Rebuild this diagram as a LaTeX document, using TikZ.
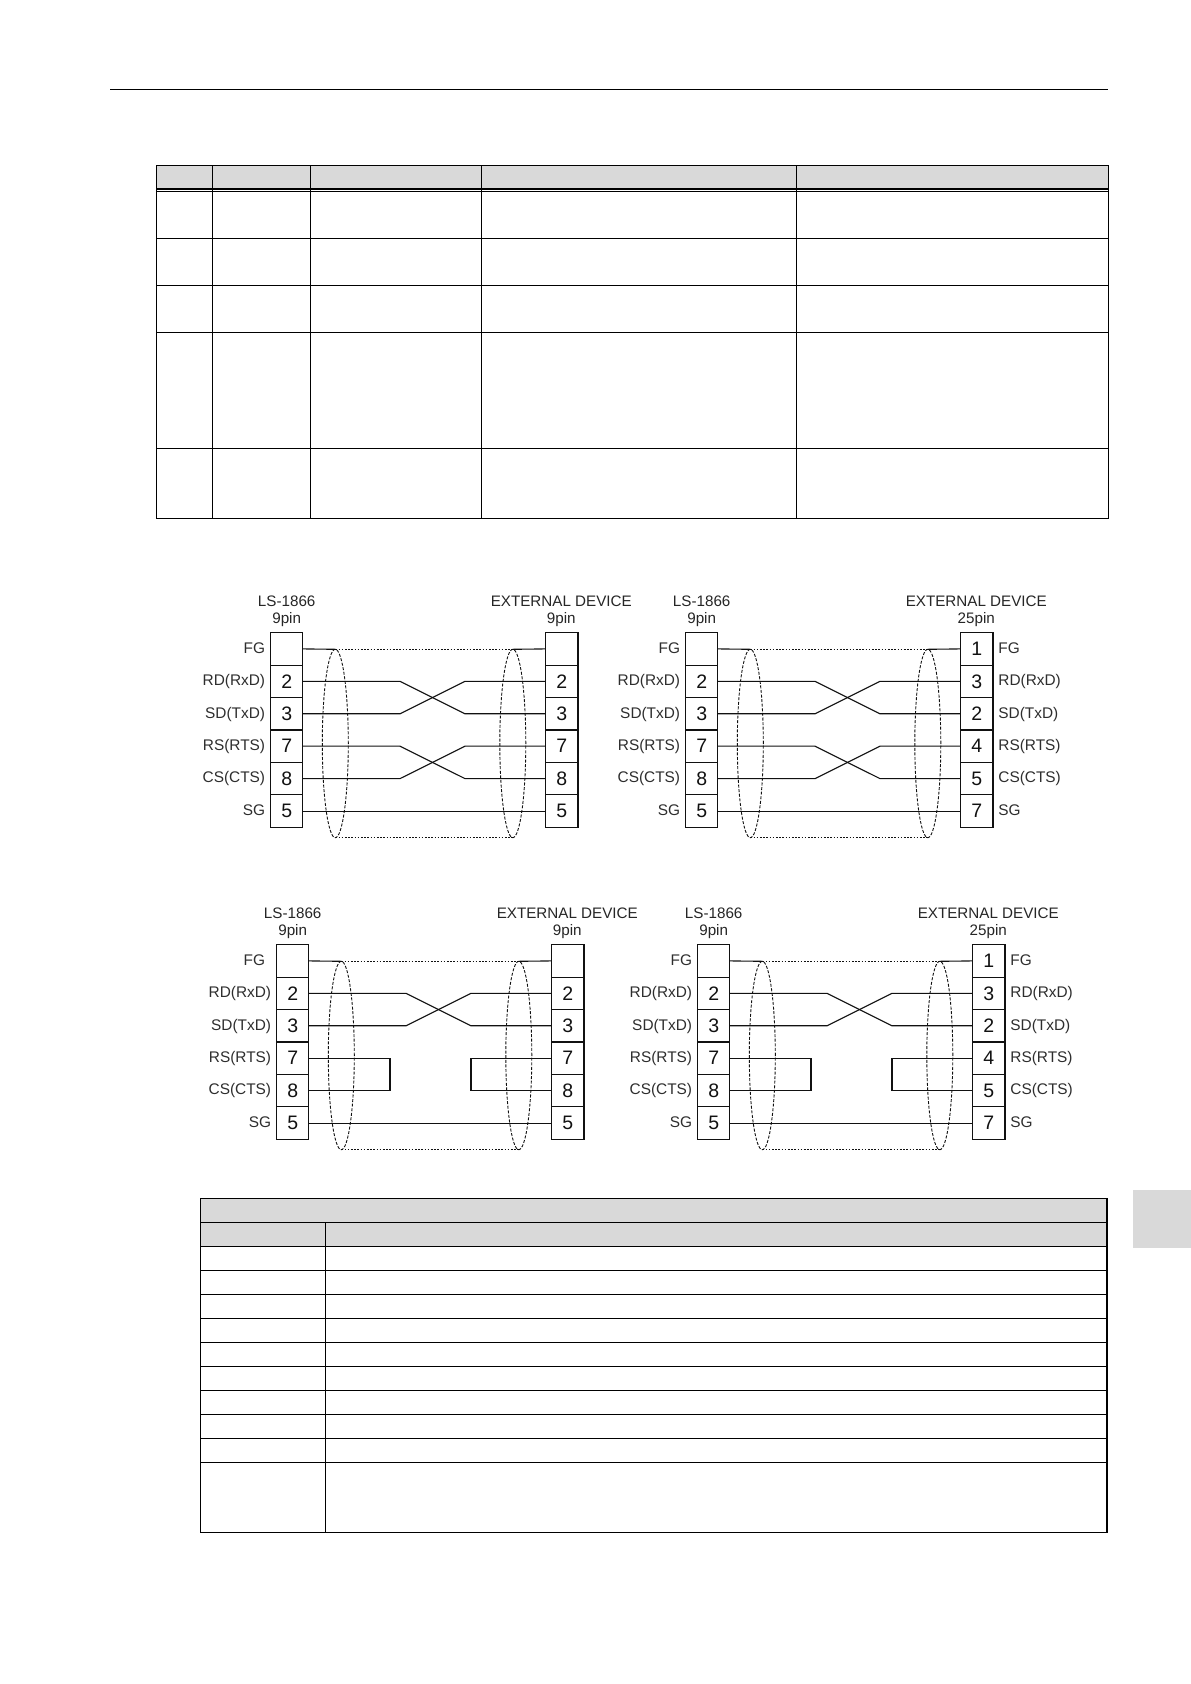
\documentclass[tikz,border=0pt]{standalone}
\usepackage{fontspec}
\setmainfont{Liberation Sans}
\usetikzlibrary{shapes.geometric,calc}
\definecolor{hdr}{HTML}{D9D9D9}
\definecolor{ink}{HTML}{111111}
\tikzset{
  pinbox/.style={draw=ink,line width=1.2pt,minimum width=32.2pt,minimum height=32.4pt,inner sep=0pt,outer sep=0pt,font=\fontsize{19.5}{19.5}\selectfont,text=ink},
  siglabel/.style={inner sep=0pt,outer sep=0pt,font=\fontsize{15.4}{15.4}\selectfont,text=black!82,text height=11.5pt,text depth=3pt},
  titlelabel/.style={inner sep=0pt,font=\fontsize{15.2}{15.2}\selectfont,text=black!85},
  wire/.style={draw=ink,line width=1.1pt},
  shield/.style={ellipse,draw=ink,line width=0.9pt,dash pattern=on 3pt off 1.6pt,minimum width=26pt,minimum height=188.4pt,inner sep=0pt,outer sep=0pt},
  shieldline/.style={draw=ink,line width=1pt,dash pattern=on 1.6pt off 1.6pt},
  rule/.style={draw=black,line width=1.1pt},
}
% #1 id, #2 dx, #3 dy, #4 right pin list, #5 right caption, #6 extra FG gap
\newcommand{\cablediagram}[6]{%
  \node[titlelabel] (#1titleL) at ({286.7+#2},{601.2+#3}) {LS-1866};
  \node[titlelabel] (#1pinsL) at ({286.7+#2},{619.8+#3}) {9pin};
  \node[titlelabel] (#1titleR) at ({561.3+#2},{601.2+#3}) {EXTERNAL DEVICE};
  \node[titlelabel] (#1pinsR) at ({561.3+#2},{619.8+#3}) {#5};
  \foreach \r/\n in {0/{},1/2,2/3,3/7,4/8,5/5}
    \node[pinbox] (#1L\r) at ({286.7+#2},{648.9+32.43*\r+#3}) {\n};
  \foreach \r/\n in {#4}
    \node[pinbox] (#1R\r) at ({561.8+#2},{648.9+32.43*\r+#3}) {\n};
  \foreach \r/\s in {1/RD(RxD),2/SD(TxD),3/RS(RTS),4/CS(CTS),5/SG}
    \node[siglabel,anchor=east] (#1S\r) at ($(#1L\r.west)+(-5.5,0)$) {\s};
  \node[siglabel,anchor=east] (#1S0) at ($(#1L0.west)+(-5.5-#6,0)$) {FG};
  \node[shield] (#1e1) at ({335.3+#2},{743.5+#3}) {};
  \node[shield] (#1e2) at ({512.8+#2},{743.5+#3}) {};
  \draw[shieldline] (#1e1.north) -- (#1e2.north);
  \draw[shieldline] (#1e1.south) -- (#1e2.south);
  \draw[wire] (#1L0.east) -- (#1e1.north);
  \draw[wire] (#1e2.north) -- (#1R0.west);
  \draw[wire] (#1L5.east) -- (#1R5.west);
  \coordinate (#1c1) at ({400+#2},{700+#3});
  \coordinate (#1c2) at ({465+#2},{700+#3});
  \draw[wire] (#1L1.east) -- (#1L1.east -| #1c1) -- (#1R2.west -| #1c2) -- (#1R2.west);
  \draw[wire] (#1L2.east) -- (#1L2.east -| #1c1) -- (#1R1.west -| #1c2) -- (#1R1.west);
}
\newcommand{\crosspair}[1]{%
  \draw[wire] (#1L3.east) -- (#1L3.east -| #1c1) -- (#1R4.west -| #1c2) -- (#1R4.west);
  \draw[wire] (#1L4.east) -- (#1L4.east -| #1c1) -- (#1R3.west -| #1c2) -- (#1R3.west);
}
% #1 id, #2 dx
\newcommand{\looppair}[2]{%
  \coordinate (#1c3) at ({384+#2},700);
  \draw[wire] (#1L3.east) -- (#1L3.east -| #1c3) -- (#1L4.east -| #1c3) -- (#1L4.east);
  \draw[wire] (#1R3.west) -- (#1R3.west -| #1c2) -- (#1R4.west -| #1c2) -- (#1R4.west);
}
\newcommand{\rightlabels}[1]{%
  \foreach \r/\s in {0/FG,1/RD(RxD),2/SD(TxD),3/RS(RTS),4/CS(CTS),5/SG}
    \node[siglabel,anchor=west] (#1T\r) at ($(#1R\r.east)+(5.5,0)$) {\s};
}
\begin{document}
\begin{tikzpicture}[x=1pt,y=-1pt]
\useasboundingbox (0,0) rectangle (1191,1684);
\fill[white] (0,0) rectangle (1191,1684);
% header rule
\draw[line width=1.2pt] (110,89.3) -- (1108,89.3);
% side tab
\fill[hdr] (1133,1190) rectangle (1191,1248);
% top table
\fill[hdr] (156.4,165.7) rectangle (1108.2,189);
\draw[rule] (156.4,165.7) rectangle (1108.2,518.3);
\foreach \x in {212.1,310.9,481.4,796.4} \draw[rule] (\x,165.7) -- (\x,518.3);
\foreach \y in {189,191.5,238.3,285.3,332.3,448.3} \draw[rule] (156.4,\y) -- (1108.2,\y);
% lower table
\fill[hdr] (200.2,1198.3) rectangle (1107,1246.3);
\draw[rule] (200.2,1198.3) rectangle (1107,1532.3);
\foreach \y in {1222.3,1246.3,1270.3,1294.3,1318.3,1342.3,1366.3,1390.3,1414.3,1438.3,1462.3}
  \draw[rule] (200.2,\y) -- (1107,\y);
\draw[rule] (325.2,1222.3) -- (325.2,1532.3);
% wiring diagrams
\cablediagram{a}{0}{0}{0/{},1/2,2/3,3/7,4/8,5/5}{9pin}{0}
\crosspair{a}
\cablediagram{b}{415}{0}{0/1,1/3,2/2,3/4,4/5,5/7}{25pin}{0}
\crosspair{b}
\rightlabels{b}
\cablediagram{c}{6}{312}{0/{},1/2,2/3,3/7,4/8,5/5}{9pin}{6}
\looppair{c}{6}
\cablediagram{d}{427}{312}{0/1,1/3,2/2,3/4,4/5,5/7}{25pin}{0}
\looppair{d}{427}
\rightlabels{d}
\end{tikzpicture}
\end{document}
